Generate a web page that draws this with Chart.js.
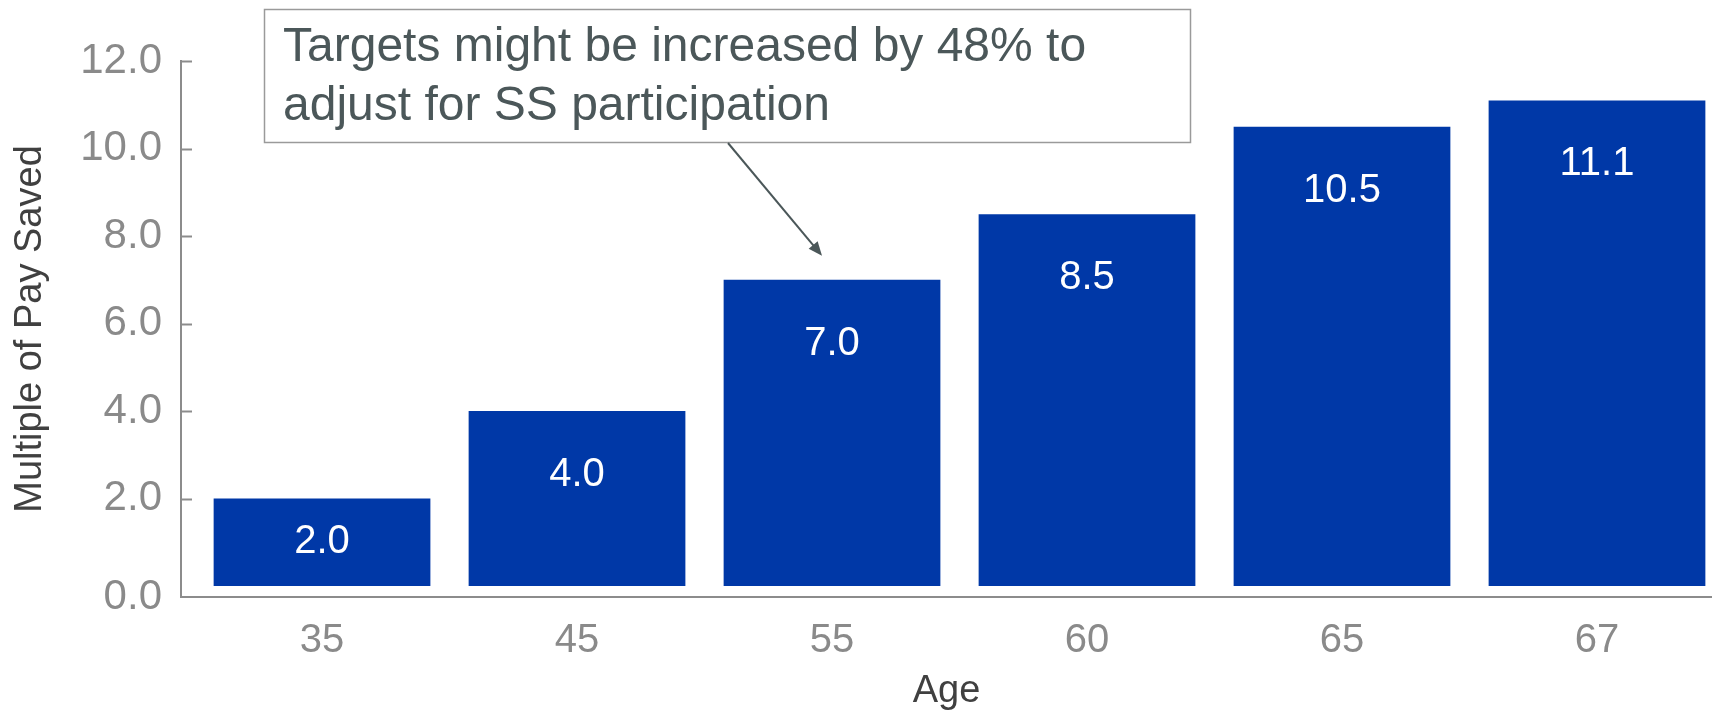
<!DOCTYPE html>
<html>
<head>
<meta charset="utf-8">
<script src="https://cdn.jsdelivr.net/npm/chart.js@4/dist/chart.umd.min.js"></script>
<style>
    html, body { margin: 0; padding: 0; background: #fff; }
    #wrap { width: 1712px; height: 714px; position: relative; }
</style>
</head>
<body>
<div id="wrap"><canvas id="savedChart"></canvas></div>
<script>
// chart data
var ages = ['35', '45', '55', '60', '65', '67'];
var multiples = [2.0, 4.0, 7.0, 8.5, 10.5, 11.1];
var yTicks = [0, 2, 4, 6, 8, 10, 12];
var note = ['Targets might be increased by 48% to', 'adjust for SS participation'];

var barBlue = '#0038a7';
var axisGrey = '#8c8c8c';

document.addEventListener('DOMContentLoaded', function () {

    Chart.defaults.font.family = "'Liberation Sans', Arial, sans-serif";

    // white value labels inside the top of each bar
    var barLabels = {
        id: 'barLabels',
        afterDatasetsDraw: function (chart) {
            var ctx = chart.ctx;
            var meta = chart.getDatasetMeta(0);
            ctx.save();
            ctx.fillStyle = '#ffffff';
            ctx.font = "40px 'Liberation Sans', Arial, sans-serif";
            ctx.textAlign = 'center';
            ctx.textBaseline = 'middle';
            meta.data.forEach(function (bar, i) {
                var y = Math.min(bar.y + 64, (bar.y + bar.base) / 2);
                ctx.fillText(multiples[i].toFixed(1), bar.x, y);
            });
            ctx.restore();
        }
    };

    // small inward tick marks on the y axis
    var innerTicks = {
        id: 'innerTicks',
        afterDraw: function (chart) {
            var ctx = chart.ctx;
            var y = chart.scales.y;
            var left = chart.chartArea.left;
            ctx.save();
            ctx.strokeStyle = axisGrey;
            ctx.lineWidth = 2;
            y.ticks.forEach(function (t) {
                if (t.value <= 0) return;
                var py = Math.round(y.getPixelForValue(t.value)) + 0.5;
                ctx.beginPath();
                ctx.moveTo(left, py);
                ctx.lineTo(left + 11, py);
                ctx.stroke();
            });
            ctx.restore();
        }
    };

    // callout box with arrow pointing at the 55 bar
    var callout = {
        id: 'callout',
        afterDraw: function (chart) {
            var ctx = chart.ctx;
            var xs = chart.scales.x, ys = chart.scales.y;
            ctx.save();
            ctx.fillStyle = '#ffffff';
            ctx.fillRect(264, 9, 926, 133);
            ctx.strokeStyle = '#9a9a9a';
            ctx.lineWidth = 1.5;
            ctx.strokeRect(264.5, 9.5, 926, 133);

            ctx.fillStyle = '#4b5759';
            ctx.font = "48px 'Liberation Sans', Arial, sans-serif";
            ctx.textAlign = 'left';
            ctx.textBaseline = 'middle';
            ctx.fillText(note[0], 283, 48);
            ctx.fillText(note[1], 283, 107);

            var x0 = 728, y0 = 143;
            var x1 = xs.getPixelForValue(2) - 10;
            var y1 = ys.getPixelForValue(7.55);
            var ang = Math.atan2(y1 - y0, x1 - x0);
            ctx.strokeStyle = '#4b5759';
            ctx.lineWidth = 2;
            ctx.beginPath();
            ctx.moveTo(x0, y0);
            ctx.lineTo(x1 - 8 * Math.cos(ang), y1 - 8 * Math.sin(ang));
            ctx.stroke();
            ctx.beginPath();
            ctx.moveTo(x1, y1);
            ctx.lineTo(x1 - 15 * Math.cos(ang - 0.4), y1 - 15 * Math.sin(ang - 0.4));
            ctx.lineTo(x1 - 15 * Math.cos(ang + 0.4), y1 - 15 * Math.sin(ang + 0.4));
            ctx.closePath();
            ctx.fillStyle = '#4b5759';
            ctx.fill();
            ctx.restore();
        }
    };

    var ctx = document.getElementById('savedChart').getContext('2d');
    var savedChart = new Chart(ctx, {
        type: 'bar',
        data: {
            datasets: [{
                label: 'Multiple of Pay Saved',
                data: multiples.map(function (v, i) { return { x: i, y: v }; }),
                backgroundColor: barBlue,
                barPercentage: 0.85,
                categoryPercentage: 1.0
            }]
        },
        options: {
            responsive: true,
            maintainAspectRatio: false,
            animation: false,
            layout: { padding: { top: 61, right: 0, left: 0, bottom: 0 } },
            plugins: {
                legend: { display: false },
                tooltip: { enabled: false }
            },
            scales: {
                x: {
                    type: 'linear',
                    offset: false,
                    min: -0.553,
                    max: 5.451,
                    grid: { display: false, drawTicks: false, offset: false },
                    border: { display: true, color: axisGrey, width: 2 },
                    afterBuildTicks: function (axis) {
                        axis.ticks = ages.map(function (a, i) { return { value: i }; });
                    },
                    ticks: {
                        color: '#8a8a8a',
                        font: { size: 40 },
                        padding: 20,
                        callback: function (value) { return ages[value]; }
                    },
                    title: {
                        display: true,
                        text: 'Age',
                        color: '#404040',
                        font: { size: 38 },
                        padding: { top: 0, bottom: 0 }
                    },
                    afterFit: function (axis) { axis.height = 117; }
                },
                y: {
                    min: -0.25,
                    max: 12,
                    grid: { display: false, drawTicks: false },
                    border: { display: true, color: axisGrey, width: 2 },
                    afterBuildTicks: function (axis) {
                        axis.ticks = yTicks.map(function (v) {
                            return { value: v === 0 ? axis.min : v };
                        });
                    },
                    ticks: {
                        color: '#8a8a8a',
                        font: { size: 42 },
                        padding: 19,
                        callback: function (value) { return Math.max(0, value).toFixed(1); }
                    },
                    title: {
                        display: true,
                        text: 'Multiple of Pay Saved',
                        color: '#404040',
                        font: { size: 38 },
                        padding: { top: 8, bottom: 0 }
                    },
                    afterFit: function (axis) { axis.width = 181; }
                }
            }
        },
        plugins: [barLabels, innerTicks, callout]
    });
});
</script>
</body>
</html>
